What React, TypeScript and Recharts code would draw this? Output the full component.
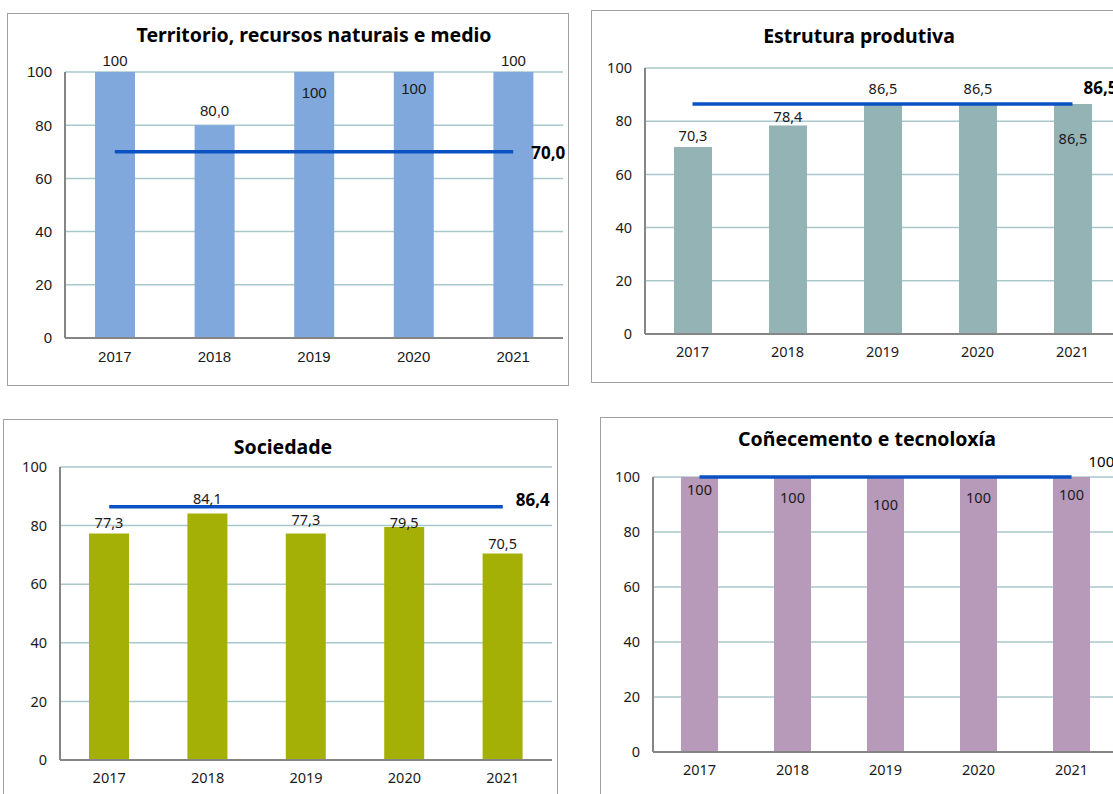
import { ComposedChart, Bar, Line, XAxis, YAxis, CartesianGrid, LabelList } from 'recharts'

const YEARS = ['2017', '2018', '2019', '2020', '2021']
const Y_TICKS = [0, 20, 40, 60, 80, 100]

const TERRITORIO = [100, 80, 100, 100, 100]
const TERRITORIO_OBX = [70, 70, 70, 70, 70]

const ESTRUTURA = [70.3, 78.4, 86.5, 86.5, 86.5]
const ESTRUTURA_OBX = [86.5, 86.5, 86.5, 86.5, 86.5]

const SOCIEDADE = [77.3, 84.1, 77.3, 79.5, 70.5]
const SOCIEDADE_OBX = [86.4, 86.4, 86.4, 86.4, 86.4]

const CONECEMENTO = [100, 100, 100, 100, 100]
const CONECEMENTO_OBX = [100, 100, 100, 100, 100]

const LINE_COLOR = '#0a52c4'
const GRID_COLOR = '#a9c8cb'
const AXIS_COLOR = '#858585'

const fmt = (v: number) => (v === 100 ? '100' : v.toFixed(1).replace('.', ','))

interface PanelProps {
   title: string
   values: number[]
   target: number[]
   color: string
   left: number
   top: number
   width: number
   height: number
   plot: { left: number; top: number; right: number; bottom: number }
   titleX: number
   titleY: number
   barSize: number
   labelDy: number[]
   targetDx: number
   targetDy: number
   targetBold?: boolean
   font: string
   tickFont: string
   tickSize: number
}

function Panel(p: PanelProps) {
   const data = YEARS.map((year, i) => ({ year, value: p.values[i], target: p.target[i] }))
   const tickStyle = { fill: '#1a1a1a', fontSize: p.tickSize, fontFamily: p.tickFont }

   return (
      <div
         style={{
            position: 'absolute',
            left: p.left,
            top: p.top,
            width: p.width,
            height: p.height,
            border: '1px solid #a0a0a0',
            boxSizing: 'border-box',
            background: '#fff',
         }}
      >
         <div
            style={{
               position: 'absolute',
               left: p.titleX - 300,
               width: 600,
               top: p.titleY - 13,
               lineHeight: '26px',
               textAlign: 'center',
               fontFamily: p.font,
               fontWeight: 700,
               fontSize: 19.5,
               color: '#000',
               zIndex: 2,
            }}
         >
            {p.title}
         </div>
         <div style={{ position: 'absolute', left: -1, top: -1 }}>
            <ComposedChart
               width={p.width}
               height={p.height}
               data={data}
               margin={{ top: p.plot.top, right: p.plot.right, bottom: p.plot.bottom - 30, left: 0 }}
            >
               <CartesianGrid vertical={false} stroke={GRID_COLOR} strokeWidth={1.5} />
               <XAxis
                  dataKey="year"
                  height={30}
                  tickLine={false}
                  tickMargin={7}
                  axisLine={{ stroke: AXIS_COLOR, strokeWidth: 2 }}
                  tick={tickStyle}
               />
               <YAxis
                  width={p.plot.left}
                  domain={[0, 100]}
                  ticks={Y_TICKS}
                  interval={0}
                  tickLine={false}
                  tickMargin={7}
                  axisLine={{ stroke: AXIS_COLOR, strokeWidth: 2 }}
                  tick={tickStyle}
               />
               <Bar dataKey="value" fill={p.color} barSize={p.barSize} isAnimationActive={false}>
                  <LabelList
                     dataKey="value"
                     content={(props: any) => {
                        const { x, y, width, index, value } = props
                        return (
                           <text
                              x={Number(x) + Number(width) / 2}
                              y={Number(y) + p.labelDy[index]}
                              textAnchor="middle"
                              dominantBaseline="central"
                              fontSize={p.tickSize}
                              fontFamily={p.tickFont}
                              fill="#1a1a1a"
                           >
                              {fmt(value)}
                           </text>
                        )
                     }}
                  />
               </Bar>
               <Line
                  dataKey="target"
                  stroke={LINE_COLOR}
                  strokeWidth={3.5}
                  dot={false}
                  activeDot={false}
                  isAnimationActive={false}
               >
                  <LabelList
                     dataKey="target"
                     content={(props: any) => {
                        const { x, y, index, value } = props
                        if (index !== YEARS.length - 1) return null
                        return (
                           <text
                              x={Number(x) + p.targetDx}
                              y={Number(y) + p.targetDy}
                              textAnchor="start"
                              dominantBaseline="central"
                              fontSize={p.targetBold ? 17 : 15}
                              fontWeight={p.targetBold ? 700 : 400}
                              fontFamily={p.font}
                              fill="#000"
                           >
                              {fmt(value)}
                           </text>
                        )
                     }}
                  />
               </Line>
            </ComposedChart>
         </div>
      </div>
   )
}

export default function App() {
   return (
      <div
         style={{
            position: 'absolute',
            left: 0,
            top: 0,
            width: 1113,
            height: 794,
            overflow: 'hidden',
            background: '#fff',
         }}
      >
         <Panel
            title="Territorio, recursos naturais e medio"
            values={TERRITORIO}
            target={TERRITORIO_OBX}
            color="#80a8dc"
            left={7}
            top={13}
            width={562}
            height={373}
            plot={{ left: 58, top: 59, right: 6, bottom: 48 }}
            titleX={306}
            titleY={21}
            barSize={40}
            labelDy={[-12, -15, 20, 16, -12]}
            targetDx={18}
            targetDy={1}
            targetBold
            font="'Noto Sans', sans-serif"
            tickFont="'Liberation Sans', Arial, sans-serif"
            tickSize={15}
         />
         <Panel
            title="Estrutura produtiva"
            values={ESTRUTURA}
            target={ESTRUTURA_OBX}
            color="#93b3b5"
            left={591}
            top={10}
            width={534}
            height={373}
            plot={{ left: 54, top: 58, right: 5, bottom: 49 }}
            titleX={267}
            titleY={25}
            barSize={38}
            labelDy={[-12, -9, -16, -16, 34]}
            targetDx={11}
            targetDy={-16}
            targetBold
            font="'Noto Sans', sans-serif"
            tickFont="'Noto Sans', sans-serif"
            tickSize={14.5}
         />
         <Panel
            title="Sociedade"
            values={SOCIEDADE}
            target={SOCIEDADE_OBX}
            color="#a5b007"
            left={3}
            top={419}
            width={555}
            height={380}
            plot={{ left: 57, top: 48, right: 6, bottom: 39 }}
            titleX={279}
            titleY={27}
            barSize={40}
            labelDy={[-12, -16, -15, -5, -10]}
            targetDx={13}
            targetDy={-7}
            targetBold
            font="'Noto Sans', sans-serif"
            tickFont="'Noto Sans', sans-serif"
            tickSize={14.5}
         />
         <Panel
            title="Coñecemento e tecnoloxía"
            values={CONECEMENTO}
            target={CONECEMENTO_OBX}
            color="#b799b9"
            left={600}
            top={417}
            width={530}
            height={380}
            plot={{ left: 53, top: 60, right: 12, bottom: 45 }}
            titleX={266}
            titleY={21}
            barSize={37}
            labelDy={[12, 20, 27, 20, 17]}
            targetDx={17}
            targetDy={-16}
            font="'Noto Sans', sans-serif"
            tickFont="'Noto Sans', sans-serif"
            tickSize={14.5}
         />
      </div>
   )
}
